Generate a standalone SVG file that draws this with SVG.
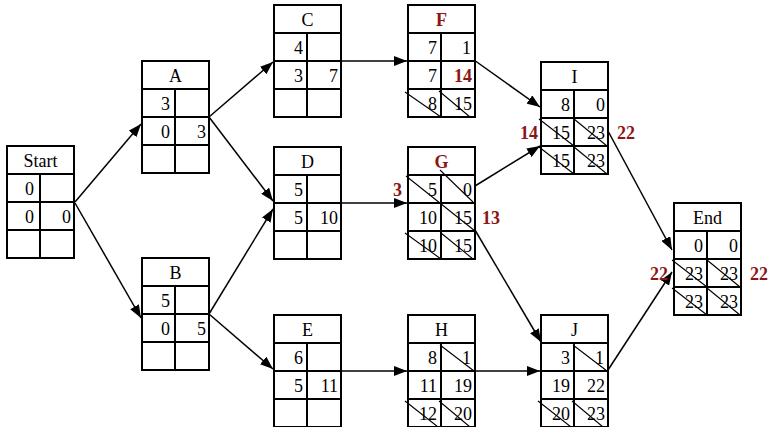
<svg xmlns="http://www.w3.org/2000/svg" width="770" height="427" viewBox="0 0 770 427">
<style>
.box{fill:#fff;stroke:#000;stroke-width:2}
.ln{stroke:#000;stroke-width:2;fill:none}
.dg{stroke:#000;stroke-width:1.1;fill:none}
.t{font-family:"Liberation Serif","Times New Roman",serif;font-size:18px;fill:#000}
.c{text-anchor:middle}
.r{text-anchor:end}
.red{fill:#8C1515;font-weight:bold}
.con{stroke:#000;stroke-width:1.5;fill:none;marker-end:url(#ah)}
</style>
<defs>
<marker id="ah" markerUnits="userSpaceOnUse" markerWidth="13" markerHeight="10" refX="13" refY="5" orient="auto">
<path d="M0,0 L13,5 L0,10 z" fill="#000"/>
</marker>
<g id="grid">
<rect class="box" x="0" y="0" width="67" height="112"/>
<path class="ln" d="M0,28H67M0,56H67M0,84H67M33,28V112"/>
</g>
</defs>
<rect width="770" height="427" fill="#fff"/>

<g id="connectors">
<path class="con" d="M75,202L141,124"/>
<path class="con" d="M75,203L141,318"/>
<path class="con" d="M209,117L273,62"/>
<path class="con" d="M209,117L273,201"/>
<path class="con" d="M209,314L273,209"/>
<path class="con" d="M209,314L273,369"/>
<path class="con" d="M341,61L407,61"/>
<path class="con" d="M341,203L407,203"/>
<path class="con" d="M341,371L407,371"/>
<path class="con" d="M474,60L540,107"/>
<path class="con" d="M475,186L540,146"/>
<path class="con" d="M475,230L541,342"/>
<path class="con" d="M474,371L540,371"/>
<path class="con" d="M608,131L672,250"/>
<path class="con" d="M608,370L672,272"/>
</g>

<g id="node-start" transform="translate(7,146)">
<use href="#grid"/>
<text class="t c" x="33.5" y="21">Start</text>
<text class="t r" x="27" y="49">0</text>
<text class="t r" x="27" y="77">0</text>
<text class="t r" x="64" y="77">0</text>
</g>

<g id="node-a" transform="translate(142,61)">
<use href="#grid"/>
<text class="t c" x="33.5" y="21">A</text>
<text class="t r" x="28" y="49">3</text>
<text class="t r" x="28" y="77">0</text>
<text class="t r" x="64" y="77">3</text>
</g>

<g id="node-b" transform="translate(142,258)">
<use href="#grid"/>
<text class="t c" x="33.5" y="21">B</text>
<text class="t r" x="28" y="49">5</text>
<text class="t r" x="28" y="77">0</text>
<text class="t r" x="64" y="77">5</text>
</g>

<g id="node-c" transform="translate(274,5)">
<use href="#grid"/>
<text class="t c" x="33.5" y="21">C</text>
<text class="t r" x="29" y="49">4</text>
<text class="t r" x="29" y="77">3</text>
<text class="t r" x="64" y="77">7</text>
</g>

<g id="node-d" transform="translate(274,147)">
<use href="#grid"/>
<text class="t c" x="33.5" y="21">D</text>
<text class="t r" x="29" y="49">5</text>
<text class="t r" x="29" y="77">5</text>
<text class="t r" x="64" y="77">10</text>
</g>

<g id="node-e" transform="translate(274,315)">
<use href="#grid"/>
<text class="t c" x="33.5" y="21">E</text>
<text class="t r" x="29" y="49">6</text>
<text class="t r" x="29" y="77">5</text>
<text class="t r" x="64" y="77">11</text>
</g>

<g id="node-f" transform="translate(408,5)">
<use href="#grid"/>
<text class="t c red" x="33.5" y="21">F</text>
<text class="t r" x="29" y="49">7</text>
<text class="t r" x="63" y="49">1</text>
<text class="t r" x="29" y="77">7</text>
<text class="t r red" x="64" y="77">14</text>
<text class="t r" x="29" y="105">8</text>
<text class="t r" x="64" y="105">15</text>
<path class="dg" d="M-3,87L33,112M31,86L62,112"/>
</g>

<g id="node-g" transform="translate(408,147)">
<use href="#grid"/>
<text class="t c red" x="33.5" y="21">G</text>
<text class="t r" x="29" y="49">5</text>
<text class="t r" x="64" y="49">0</text>
<text class="t r" x="29" y="77">10</text>
<text class="t r" x="64" y="77">15</text>
<text class="t r" x="29" y="105">10</text>
<text class="t r" x="64" y="105">15</text>
<path class="dg" d="M-2,29L67,84M32,23L65,55M-3,86L33,112M33,86L65,112"/>
</g>

<g id="node-h" transform="translate(408,315)">
<use href="#grid"/>
<text class="t c" x="33.5" y="21">H</text>
<text class="t r" x="29" y="49">8</text>
<text class="t r" x="63" y="49">1</text>
<text class="t r" x="29" y="77">11</text>
<text class="t r" x="64" y="77">19</text>
<text class="t r" x="29" y="105">12</text>
<text class="t r" x="64" y="105">20</text>
<path class="dg" d="M32,30L66,56M-3,86L30,112M31,86L62,112"/>
</g>

<g id="node-i" transform="translate(541,62)">
<use href="#grid"/>
<text class="t c" x="33.5" y="21">I</text>
<text class="t r" x="29" y="49">8</text>
<text class="t r" x="64" y="49">0</text>
<text class="t r" x="29" y="77">15</text>
<text class="t r" x="64" y="77">23</text>
<text class="t r" x="29" y="105">15</text>
<text class="t r" x="64" y="105">23</text>
<path class="dg" d="M-2,57L33,84M33,57L66,84M-2,85L33,112M33,85L66,112"/>
</g>

<g id="node-j" transform="translate(541,315)">
<use href="#grid"/>
<text class="t c" x="33.5" y="21">J</text>
<text class="t r" x="29" y="49">3</text>
<text class="t r" x="63" y="49">1</text>
<text class="t r" x="29" y="77">19</text>
<text class="t r" x="64" y="77">22</text>
<text class="t r" x="29" y="105">20</text>
<text class="t r" x="64" y="105">23</text>
<path class="dg" d="M32,30L66,56M-3,86L30,112M31,86L62,112"/>
</g>

<g id="node-end" transform="translate(674,203)">
<use href="#grid"/>
<text class="t c" x="33.5" y="21">End</text>
<text class="t r" x="29" y="49">0</text>
<text class="t r" x="64" y="49">0</text>
<text class="t r" x="29" y="77">23</text>
<text class="t r" x="64" y="77">23</text>
<text class="t r" x="29" y="105">23</text>
<text class="t r" x="64" y="105">23</text>
<path class="dg" d="M-2,57L33,84M33,57L66,84M-2,85L33,112M33,85L66,112"/>
</g>

<g id="labels">
<text class="t r red" x="402" y="196">3</text>
<text class="t red" x="482" y="224">13</text>
<text class="t r red" x="538" y="139">14</text>
<text class="t red" x="617" y="139">22</text>
<text class="t r red" x="668" y="280">22</text>
<text class="t red" x="750" y="280">22</text>
</g>
</svg>
